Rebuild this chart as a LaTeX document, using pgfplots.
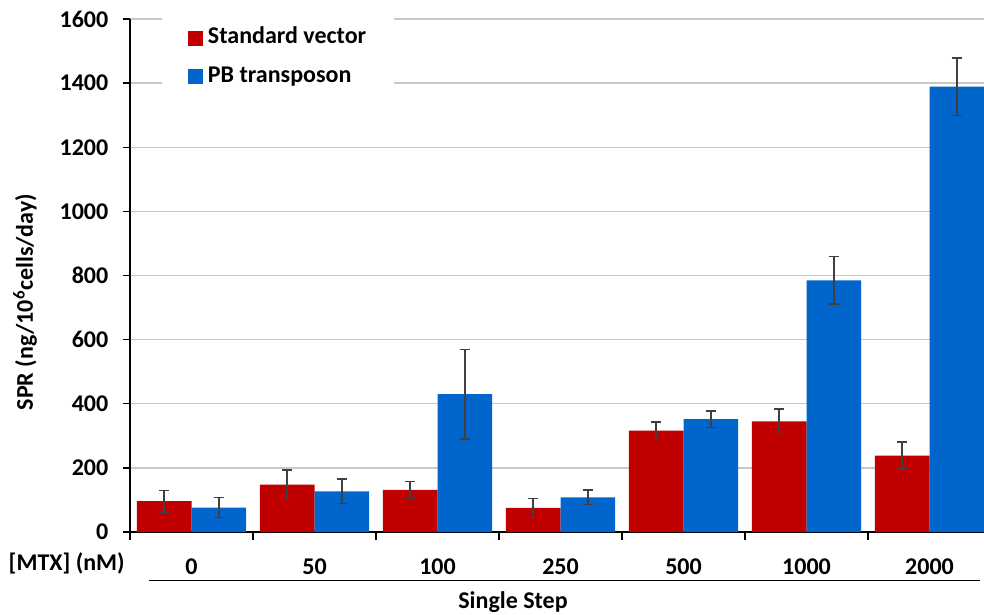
\documentclass[border=0pt]{standalone}
\usepackage{pgfplots}
\pgfplotsset{compat=1.18}
\usepackage{fontspec}
\setmainfont{Carlito}
\definecolor{cred}{HTML}{C00000}
\definecolor{cblue}{HTML}{0066CC}
\definecolor{cgrid}{HTML}{C8C8C8}
\definecolor{cerr}{HTML}{404040}
\begin{document}
\begin{tikzpicture}[font=\fontsize{18}{21}\selectfont\bfseries]
\useasboundingbox (0pt,0pt) rectangle (738pt,460.5pt);
\begin{axis}[
  at={(97.5pt,61.5pt)}, anchor=south west,
  scale only axis, width=645.75pt, height=384.75pt,
  ymin=0, ymax=1600, ytick={0,200,...,1600},
  xmin=-0.5, xmax=6.5,
  axis lines*=left,
  axis line style={black, line width=1.1pt},
  ymajorgrids, major grid style={cgrid, line width=1.1pt},
  ytick align=outside, major tick length=5.25pt,
  ytick style={black, line width=1.1pt},
  xtick={0,1,2,3,4,5,6},
  xticklabels={0,50,100,250,500,1000,2000},
  xtick style={draw=none},
  extra x ticks={-0.5,0.5,1.5,2.5,3.5,4.5,5.5},
  extra x tick labels={},
  extra x tick style={xtick style={draw=black, line width=1.1pt}, tick align=outside, major tick length=6pt, grid=none},
  xticklabel style={yshift=-11pt},
  yticklabel style={xshift=-7.5pt},
  /pgf/number format/assume math mode=true,
  /pgf/number format/1000 sep={},
  scaled y ticks=false,
  ybar=0pt, bar width=0.445,
  clip=false,
  legend cell align=left,
  legend style={at={(0.0372,1)}, anchor=north west, yshift=4pt, draw=none, fill=white,
    inner xsep=19pt, inner ysep=8pt, row sep=8.5pt, column sep=2pt,
    nodes={inner sep=2pt, text height=12.5pt, text depth=4pt}},
  legend image code/.code={\fill[#1] (0pt,-5.6pt) rectangle (11.25pt,5.6pt);},
  error bars/y dir=both, error bars/y explicit,
  error bars/error bar style={cerr, line width=1.1pt},
  error bars/error mark options={cerr, line width=1.1pt, mark size=4pt, rotate=90},
]
\addplot[fill=cred, draw=none] coordinates {
  (0,96) +- (0,34)
  (1,148) +- (0,46)
  (2,131) +- (0,27)
  (3,75) +- (0,30)
  (4,316) +- (0,27)
  (5,345) +- (0,38)
  (6,238) +- (0,42)
};
\addplot[fill=cblue, draw=none] coordinates {
  (0,76) +- (0,31)
  (1,127) +- (0,38)
  (2,430) +- (0,140)
  (3,108) +- (0,23)
  (4,352) +- (0,26)
  (5,785) +- (0,74)
  (6,1389) +- (0,90)
};
\legend{Standard vector, PB transposon}
\end{axis}
\node[anchor=east] at (97pt,38.25pt) {[MTX] (nM)};
\draw[black, line width=1.1pt] (111.75pt,25pt) -- (735pt,25pt);
\node at (384.75pt,9.2pt) {Single Step};
\node[rotate=90] at (18.75pt,234pt) {SPR (ng/10\textsuperscript{6}cells/day)};
\end{tikzpicture}
\end{document}
